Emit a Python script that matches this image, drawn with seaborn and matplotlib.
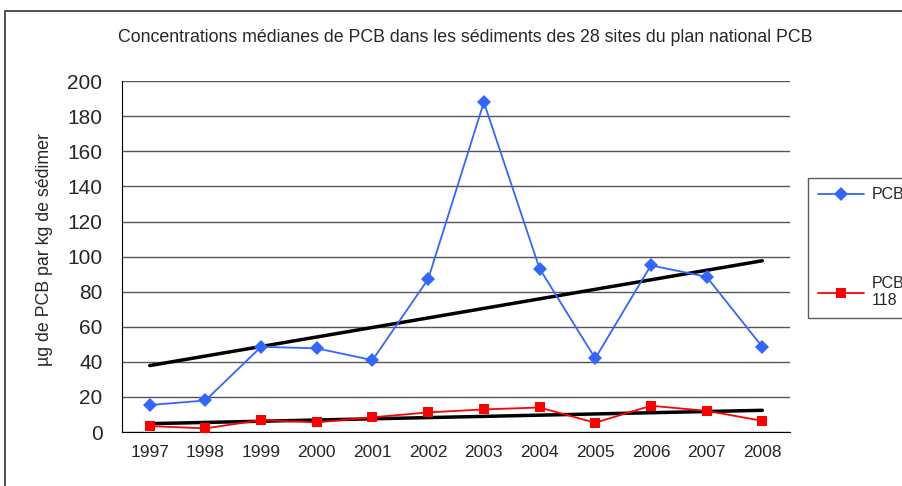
import numpy as np
import pandas as pd
import seaborn as sns
import matplotlib.pyplot as plt
from matplotlib.patches import Rectangle
from matplotlib.ticker import MultipleLocator

# Données
annees = ['1997', '1998', '1999', '2000', '2001', '2002',
          '2003', '2004', '2005', '2006', '2007', '2008']
pcb = [15.4, 18, 48.6, 47.7, 41, 87.2, 188, 93.2, 42, 95, 88.5, 48.6]
pcb118 = [3.4, 2.1, 6.8, 5.5, 8.4, 11.2, 12.9, 14, 5.3, 15, 12.1, 6.4]
series = ['PCB', 'PCB\n118']

sns.set_style('white')
plt.rcParams['font.family'] = ['Liberation Sans', 'DejaVu Sans']

pos = np.arange(len(annees))
df = pd.DataFrame({
    'x': np.concatenate([pos, pos]),
    'val': pcb + pcb118,
    'serie': [series[0]] * len(pcb) + [series[1]] * len(pcb118),
})

fig = plt.figure(figsize=(9.03, 4.86), dpi=100)
ax = fig.add_axes([0.135, 0.111, 0.74, 0.722])

# Tendances linéaires
for vals in (pcb, pcb118):
    sns.regplot(x=pos, y=np.array(vals), ax=ax, scatter=False, ci=None,
                color='black', line_kws={'linewidth': 2.5, 'zorder': 4})

sns.lineplot(data=df, x='x', y='val', hue='serie', style='serie',
             palette=['#3366FF', '#FF0000'], markers=['D', 's'], dashes=False,
             markersize=7, markeredgewidth=0, linewidth=1.3, ax=ax, zorder=5)

ax.set_xlim(-0.5, len(annees) - 0.5)
ax.set_ylim(0, 200)
ax.yaxis.set_major_locator(MultipleLocator(20))
ax.set_xticks(pos)
ax.set_xticklabels(annees, fontsize=12.5)
ax.set_xticks(np.arange(-0.5, len(annees)), minor=True)
ax.tick_params(axis='x', which='major', length=0, pad=9)
ax.tick_params(axis='x', which='minor', length=5, width=1, direction='out', color='black')
ax.tick_params(axis='y', length=6, width=1, direction='out', color='black', labelsize=15, pad=8)
ax.grid(axis='y', color='#555555', linewidth=1)
ax.set_axisbelow(True)
for s in ['top', 'right']:
    ax.spines[s].set_visible(False)
ax.spines['left'].set_color('black')
ax.spines['bottom'].set_color('black')
ax.set_xlabel('')
ax.set_ylabel('µg de PCB par kg de sédimer', fontsize=12.8)
ax.yaxis.set_label_coords(-0.103, 0.52)

fig.text(0.515, 0.922, 'Concentrations médianes de PCB dans les sédiments des 28 sites du plan national PCB',
         ha='center', va='center', fontsize=12.8)

leg = ax.legend(loc='upper left', bbox_to_anchor=(0.895, 0.634), bbox_transform=fig.transFigure,
                frameon=True, fancybox=False, fontsize=11.5, handlelength=2.9,
                labelspacing=4.6, borderpad=0.6, handletextpad=0.45, borderaxespad=0)
leg.get_frame().set_edgecolor('#333333')
leg.get_frame().set_linewidth(1)

fig.patches.append(Rectangle((5 / 903, -0.05), 1.2, 1 - 11 / 486 + 0.05,
                             transform=fig.transFigure, fill=False,
                             edgecolor='#333333', linewidth=1.2))

fig.savefig('out.png', dpi=100)
